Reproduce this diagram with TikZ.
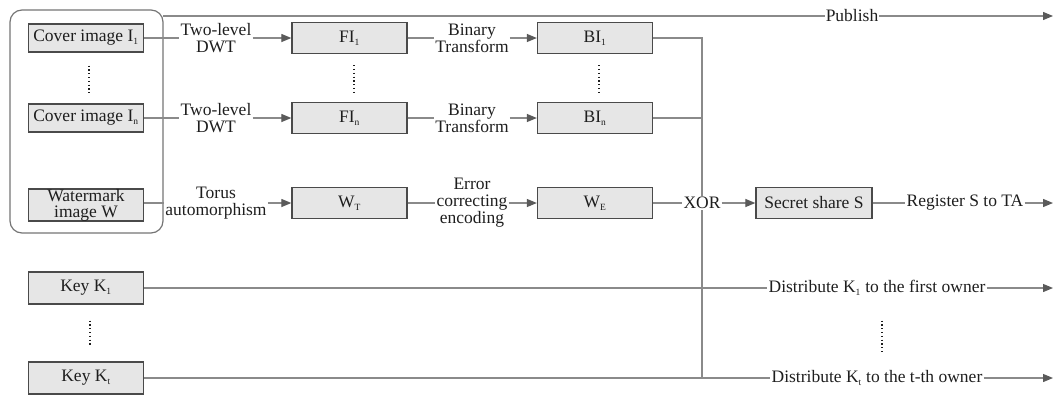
\documentclass[tikz,border=0pt]{standalone}
\usepackage{fontspec}
\setmainfont{Liberation Serif}
\usetikzlibrary{arrows.meta,calc}
\definecolor{boxfill}{HTML}{E6E6E6}
\definecolor{boxline}{HTML}{4A4A4A}
\definecolor{wirec}{HTML}{8A8A8A}
\definecolor{tipc}{HTML}{5A5A5A}
\definecolor{ink}{HTML}{1E1E1E}
% small lowered index
\newcommand{\idx}[1]{\textsubscript{\fontsize{9.5}{9.5}\selectfont #1}}
\begin{document}
\begin{tikzpicture}[x=1pt,y=-1pt,
  font=\fontsize{17.5}{17}\selectfont,
  blk/.style={draw=boxline, fill=boxfill, line width=1.3pt, minimum width=115pt,
    minimum height=31pt, inner sep=0pt, align=center, text=ink},
  lbl/.style={inner sep=1pt, align=center, text=ink},
  wire/.style={draw=wirec, line width=1.2pt},
  arr/.style={wire, -{Triangle[length=10pt,width=8pt,color=tipc]}},
  dotv/.style={draw=ink, line width=1.3pt, dash pattern=on 1.2pt off 2.6pt},
  framebox/.style={draw=wirec!85!black, line width=1.2pt, rounded corners=12pt,
    minimum width=153pt, minimum height=223pt, inner sep=0pt}
]
\useasboundingbox (0,0) rectangle (1054,394);

% input group
\node[framebox] (frame) at (86.5,121.5) {};
\node[blk, minimum height=28pt] (c1) at (86,38) {Cover image I\idx{1}};
\node[blk, minimum height=28pt] (cn) at (86,118) {Cover image I\idx{n}};
\node[blk, minimum height=32pt, font=\fontsize{17.5}{16}\selectfont] (wm) at (86,205) {Watermark\\image W};

% keys
\node[blk, minimum height=32pt] (k1) at (86,288) {Key K\idx{1}};
\node[blk, minimum height=32pt] (kt) at (86,378) {Key K\idx{t}};

% transformed images
\node[blk] (f1) at (349.5,38) {FI\idx{1}};
\node[blk] (fn) at (349.5,118) {FI\idx{n}};
\node[blk] (wt) at (349.5,203) {W\idx{T}};
\node[blk] (b1) at (595,38) {BI\idx{1}};
\node[blk] (bn) at (595,118) {BI\idx{n}};
\node[blk] (we) at (595,203) {W\idx{E}};
\node[blk, minimum width=116pt] (ss) at (814,203) {Secret share S};

% operation labels
\node[lbl] (dwt1) at (216,38) {Two-level\\DWT};
\node[lbl] (dwtn) at (216,118) {Two-level\\DWT};
\node[lbl] (torus) at (216,203) {Torus\\automorphism};
\node[lbl] (bt1) at (472,38) {Binary\\Transform};
\node[lbl] (btn) at (472,118) {Binary\\Transform};
\node[lbl] (ecc) at (472,203) {Error\\correcting\\encoding};
\node[lbl] (xor) at (702,203) {XOR};
\node[lbl] (pub) at (852,16) {Publish};
\node[lbl] (reg) at (965,203) {Register S to TA};
\node[lbl] (d1) at (877,288) {Distribute K\idx{1} to the first owner};
\node[lbl] (dt) at (877,378) {Distribute K\idx{t} to the t-th owner};

% free ends
\coordinate (pubS) at (163,16);
\coordinate (pubE) at (1053,16);
\coordinate (regE) at (1053,203);
\coordinate (d1E) at (1053,288);
\coordinate (dtE) at (1053,378);

% main flow
\draw[wire] (c1) -- (dwt1);  \draw[arr] (dwt1) -- (f1);
\draw[wire] (cn) -- (dwtn);  \draw[arr] (dwtn) -- (fn);
\draw[wire] (wm.east |- torus.west) -- (torus); \draw[arr] (torus) -- (wt);
\draw[wire] (f1) -- (bt1);   \draw[arr] (bt1) -- (b1);
\draw[wire] (fn) -- (btn);   \draw[arr] (btn) -- (bn);
\draw[wire] (wt) -- (ecc);   \draw[arr] (ecc) -- (we);
\draw[wire] (b1.east) -| (xor.north);
\draw[wire] (bn.east) -- (bn.east -| xor.north);
\draw[wire] (we) -- (xor);
\draw[arr] (xor) -- (ss);
\draw[wire] (ss) -- (reg);   \draw[arr] (reg) -- (regE);
\draw[wire] (pubS) -- (pub); \draw[arr] (pub) -- (pubE);

% key distribution
\draw[wire] (k1) -- (d1);    \draw[arr] (d1) -- (d1E);
\draw[wire] (kt) -- (dt);    \draw[arr] (dt) -- (dtE);
\draw[wire] (xor.south) -- (xor.south |- kt.east);

% ellipsis dots
\draw[dotv, shorten <=13pt, shorten >=9pt] ([xshift=3pt]c1.south) -- ([xshift=3pt]cn.north);
\draw[dotv, shorten <=11pt, shorten >=10pt] ([xshift=4.5pt]f1.south) -- ([xshift=4.5pt]fn.north);
\draw[dotv, shorten <=11pt, shorten >=10pt] ([xshift=4pt]b1.south) -- ([xshift=4pt]bn.north);
\draw[dotv, shorten <=16pt, shorten >=15pt] ([xshift=4pt]k1.south) -- ([xshift=4pt]kt.north);
\draw[dotv, shorten <=24pt, shorten >=16pt] ([xshift=5pt]d1.south) -- ([xshift=5pt]dt.north);
\end{tikzpicture}
\end{document}
